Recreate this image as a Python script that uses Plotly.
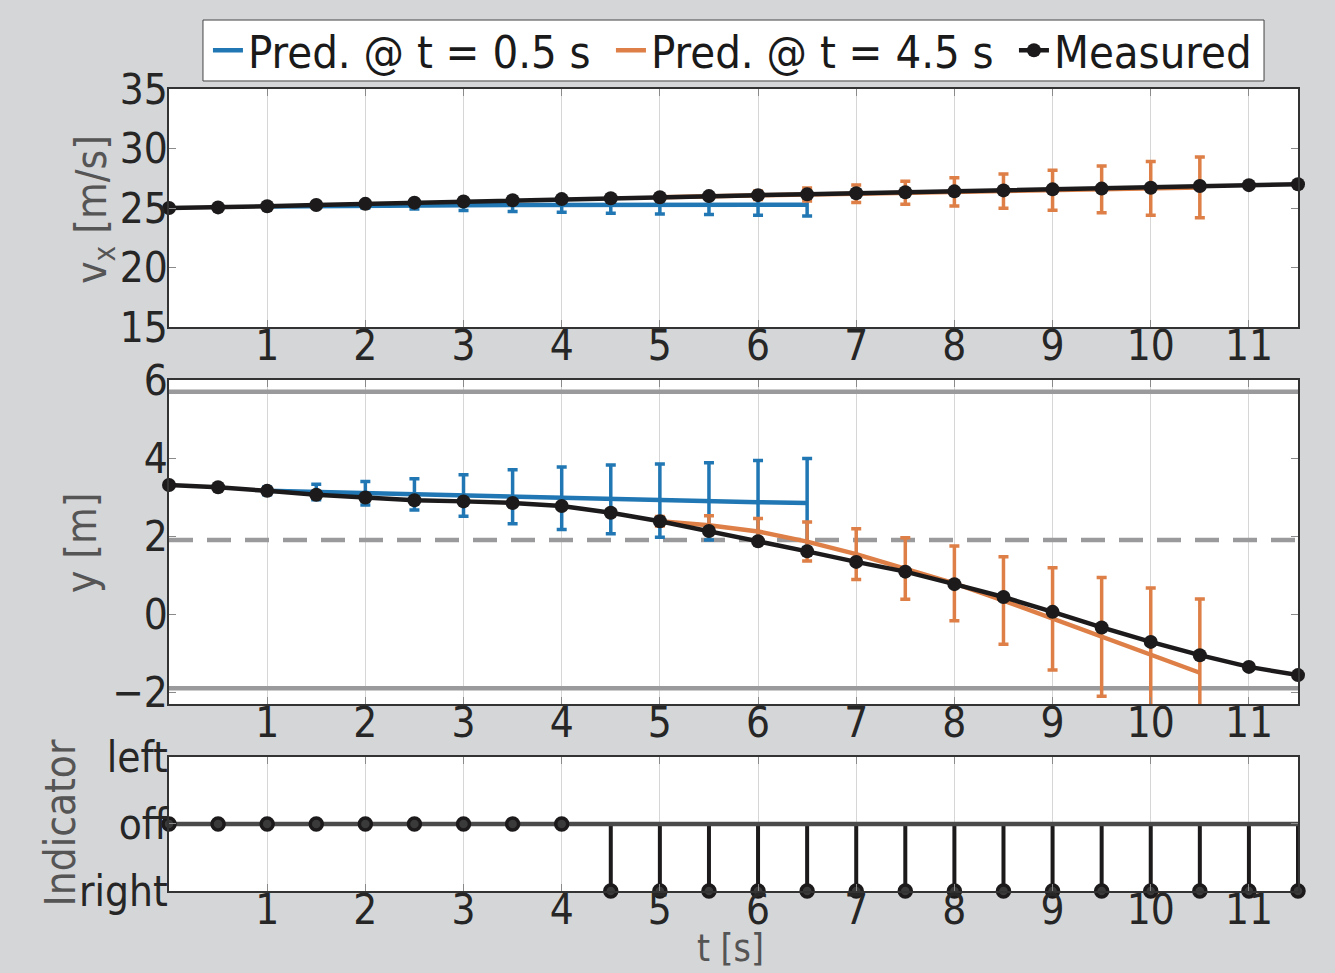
import plotly.graph_objects as go

# ---------------- data ----------------
t_meas = [0, 0.5, 1, 1.5, 2, 2.5, 3, 3.5, 4, 4.5, 5, 5.5, 6, 6.5, 7, 7.5, 8, 8.5,
          9, 9.5, 10, 10.5, 11, 11.5]
vx_meas = [25.0, 25.05, 25.15, 25.25, 25.35, 25.45, 25.55, 25.65, 25.75, 25.82,
           25.9, 26.0, 26.08, 26.15, 26.24, 26.33, 26.4, 26.48, 26.57, 26.63,
           26.7, 26.85, 26.92, 27.0]
y_meas = [3.31, 3.25, 3.16, 3.06, 2.99, 2.92, 2.89, 2.85, 2.77, 2.60, 2.38, 2.13,
          1.87, 1.61, 1.34, 1.09, 0.77, 0.44, 0.06, -0.34, -0.71, -1.05, -1.35, -1.56]
ind_meas = [0, 0, 0, 0, 0, 0, 0, 0, 0, -1, -1, -1, -1, -1, -1, -1, -1, -1,
            -1, -1, -1, -1, -1, -1]

t_pred1 = [1, 1.5, 2, 2.5, 3, 3.5, 4, 4.5, 5, 5.5, 6, 6.5]
vx_pred1 = [25.12, 25.17, 25.2, 25.22, 25.24, 25.25, 25.26, 25.27, 25.27, 25.28, 25.28, 25.28]
vx_err1 = [0.05, 0.1, 0.2, 0.3, 0.45, 0.55, 0.62, 0.7, 0.77, 0.83, 0.88, 0.95]
y_pred1 = [3.16, 3.13, 3.10, 3.07, 3.04, 3.01, 2.97, 2.94, 2.91, 2.89, 2.87, 2.85]
y_err1 = [0.1, 0.2, 0.3, 0.40, 0.53, 0.69, 0.8, 0.88, 0.94, 0.99, 1.07, 1.14]

t_pred2 = [5, 5.5, 6, 6.5, 7, 7.5, 8, 8.5, 9, 9.5, 10, 10.5]
vx_pred2 = [25.9, 26.0, 26.07, 26.14, 26.2, 26.28, 26.36, 26.42, 26.5, 26.57, 26.65, 26.73]
vx_err2 = [0.1, 0.2, 0.35, 0.55, 0.74, 0.96, 1.19, 1.44, 1.68, 1.96, 2.25, 2.55]
y_pred2 = [2.38, 2.28, 2.12, 1.86, 1.54, 1.17, 0.79, 0.35, -0.12, -0.58, -1.03, -1.5]
y_err2 = [0.12, 0.24, 0.33, 0.5, 0.65, 0.79, 0.96, 1.12, 1.31, 1.52, 1.7, 1.89]

lane_solid = [5.7, -1.9]
lane_dashed = [1.9]

x_ticks = [1, 2, 3, 4, 5, 6, 7, 8, 9, 10, 11]
vx_ticks = [15, 20, 25, 30, 35]
y_ticks = [-2, 0, 2, 4, 6]
y_ticktext = ["\u22122", "0", "2", "4", "6"]
ind_ticks = [-1, 0, 1]
ind_ticktext = ["right", "off", "left"]

# ---------------- style ----------------
BLUE = "#2077b3"
ORANGE = "#dd7f46"
BLACK = "#1c1a1b"
GRAY = "#9a9a9c"
BG = "#d5d6d8"
FONT = "Liberation Sans Narrow, DejaVu Sans Condensed, Roboto Condensed, Liberation Sans, sans-serif"
TICKC = "#262626"
TITLEC = "#555555"
LW = 4.5
MS = 14

fig = go.Figure()

# ---- top panel: vx ----
fig.add_trace(go.Scatter(x=t_pred1, y=vx_pred1, mode="lines", name="Pred. @ t = 0.5 s",
                         line=dict(color=BLUE, width=LW),
                         error_y=dict(type="data", array=vx_err1, color=BLUE, thickness=3.5, width=5),
                         xaxis="x", yaxis="y", cliponaxis=False, legendrank=1, legendwidth=358))
fig.add_trace(go.Scatter(x=t_pred2, y=vx_pred2, mode="lines", name="Pred. @ t = 4.5 s",
                         line=dict(color=ORANGE, width=LW),
                         error_y=dict(type="data", array=vx_err2, color=ORANGE, thickness=3.5, width=5),
                         xaxis="x", yaxis="y", cliponaxis=False, legendrank=2, legendwidth=358))
fig.add_trace(go.Scatter(x=t_meas, y=vx_meas, mode="lines+markers", name="Measured",
                         line=dict(color=BLACK, width=LW),
                         marker=dict(color=BLACK, size=MS, symbol="circle"),
                         xaxis="x", yaxis="y", cliponaxis=False, legendrank=3))

# ---- middle panel: y ----
for yv in lane_solid:
    fig.add_trace(go.Scatter(x=[0, 11.5], y=[yv, yv], mode="lines", showlegend=False,
                             line=dict(color=GRAY, width=4.5), xaxis="x2", yaxis="y2",
                             hoverinfo="skip"))
for yv in lane_dashed:
    fig.add_trace(go.Scatter(x=[0, 11.5], y=[yv, yv], mode="lines", showlegend=False,
                             line=dict(color=GRAY, width=4.5, dash="24px,14px"),
                             xaxis="x2", yaxis="y2", hoverinfo="skip"))
fig.add_trace(go.Scatter(x=t_pred1, y=y_pred1, mode="lines", showlegend=False,
                         line=dict(color=BLUE, width=LW),
                         error_y=dict(type="data", array=y_err1, color=BLUE, thickness=3.5, width=5),
                         xaxis="x2", yaxis="y2"))
fig.add_trace(go.Scatter(x=t_pred2, y=y_pred2, mode="lines", showlegend=False,
                         line=dict(color=ORANGE, width=LW),
                         error_y=dict(type="data", array=y_err2, color=ORANGE, thickness=3.5, width=5),
                         xaxis="x2", yaxis="y2"))
fig.add_trace(go.Scatter(x=t_meas, y=y_meas, mode="lines+markers", showlegend=False,
                         line=dict(color=BLACK, width=LW),
                         marker=dict(color=BLACK, size=MS),
                         xaxis="x2", yaxis="y2", cliponaxis=False))

# ---- bottom panel: indicator (stem plot) ----
stem_x, stem_y = [], []
for tv, iv in zip(t_meas, ind_meas):
    if iv != 0:
        stem_x += [tv, tv, None]
        stem_y += [0, iv, None]
fig.add_trace(go.Scatter(x=stem_x, y=stem_y, mode="lines", showlegend=False,
                         line=dict(color=BLACK, width=4), xaxis="x3", yaxis="y3",
                         hoverinfo="skip"))
fig.add_trace(go.Scatter(x=[0, 11.5], y=[0, 0], mode="lines", showlegend=False,
                         line=dict(color="#4a4a4a", width=4.5), xaxis="x3", yaxis="y3",
                         hoverinfo="skip"))
fig.add_trace(go.Scatter(x=t_meas, y=ind_meas, mode="markers", showlegend=False,
                         marker=dict(color="#3a3a3a", size=12, line=dict(color=BLACK, width=3.5)),
                         xaxis="x3", yaxis="y3", cliponaxis=False))

# ---------------- layout ----------------
axis_common = dict(showline=True, linecolor="#333333", linewidth=1.5, mirror="ticks",
                   ticks="inside", ticklen=7, tickcolor="#8a8a8a", tickwidth=1,
                   tickfont=dict(family=FONT, size=42, color=TICKC), zeroline=False)
xcommon = dict(axis_common, range=[0, 11.5], tickmode="array", tickvals=x_ticks,
               showgrid=True, gridcolor="#d6d6d6", gridwidth=1, ticklabelstandoff=-19)
ycommon = dict(axis_common, showgrid=False, ticklabelstandoff=-9)

fig.update_layout(
    width=1335, height=973,
    paper_bgcolor=BG, plot_bgcolor="white",
    margin=dict(l=169, r=37, t=89, b=82),
    font=dict(family=FONT, color=TICKC),
    xaxis=dict(xcommon, domain=[0, 1], anchor="y"),
    yaxis=dict(ycommon, domain=[0.7032, 1], range=[15, 35], tickmode="array",
               tickvals=vx_ticks, anchor="x"),
    xaxis2=dict(xcommon, domain=[0, 1], anchor="y2"),
    yaxis2=dict(ycommon, domain=[0.2332, 0.6372], range=[-2.3, 6], tickmode="array",
                tickvals=y_ticks, ticktext=y_ticktext, anchor="x2"),
    xaxis3=dict(xcommon, domain=[0, 1], anchor="y3"),
    yaxis3=dict(ycommon, domain=[0, 0.1671], range=[-1, 1], tickmode="array",
                tickvals=ind_ticks, ticktext=ind_ticktext, anchor="x3"),
    legend=dict(orientation="h", x=0.0345, xanchor="left", y=1.048, yanchor="middle",
                bgcolor="rgba(0,0,0,0)", borderwidth=0,
                font=dict(family=FONT, size=45, color="#1a1a1a"),
                traceorder="normal", itemwidth=30, tracegroupgap=0),
    showlegend=True,
)

# legend frame
fig.add_shape(type="rect", xref="paper", yref="paper", x0=0.0301, x1=0.9699,
              y0=1.0100, y1=1.0860, fillcolor="white", line=dict(color="#444444", width=1),
              layer="below")

# axis titles
fig.add_annotation(text="v<sub>x</sub> [m/s]", xref="paper", yref="paper",
                   x=-0.066, y=0.85, xanchor="center", yanchor="middle", textangle=-90,
                   showarrow=False, font=dict(family=FONT, size=42, color=TITLEC))
fig.add_annotation(text="y [m]", xref="paper", yref="paper",
                   x=-0.078, y=0.435, xanchor="center", yanchor="middle", textangle=-90,
                   showarrow=False, font=dict(family=FONT, size=42, color=TITLEC))
fig.add_annotation(text="Indicator", xref="paper", yref="paper",
                   x=-0.096, y=0.085, xanchor="center", yanchor="middle", textangle=-90,
                   showarrow=False, font=dict(family=FONT, size=42, color=TITLEC))
fig.add_annotation(text="t [s]", xref="paper", yref="paper",
                   x=0.497, y=-0.0715, xanchor="center", yanchor="middle",
                   showarrow=False, font=dict(family=FONT, size=37, color=TITLEC))

fig.write_html("out.html", config={"displayModeBar": False},
               post_script="document.body.style.margin='0';document.body.style.overflow='hidden';")
